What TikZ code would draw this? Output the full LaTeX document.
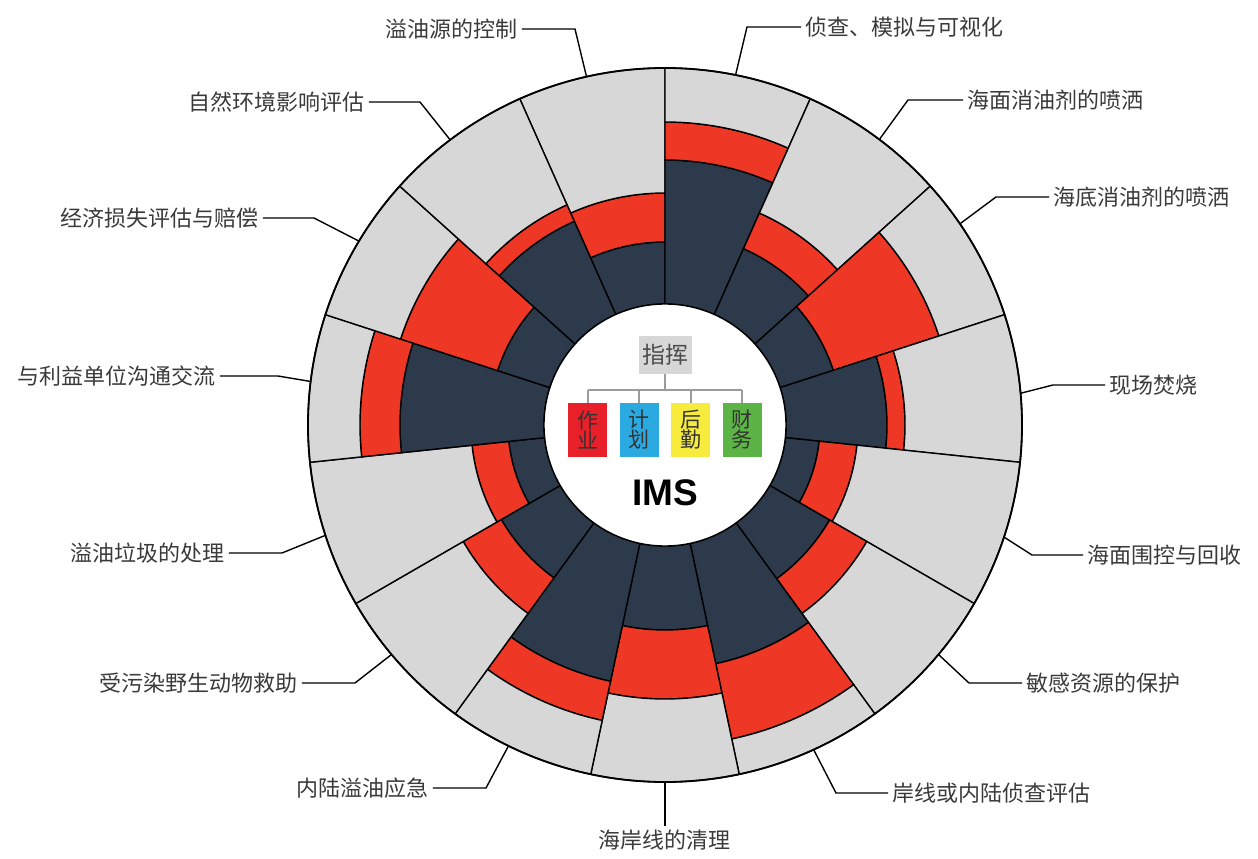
\documentclass[tikz,border=0pt]{standalone}
\usepackage{fontspec}
\setmainfont{Noto Sans CJK SC}
\newfontfamily\imsfont{Liberation Sans}
\usepackage{tikz}

\definecolor{inkdark}{HTML}{2D3A4B}
\definecolor{oilred}{HTML}{EE3724}
\definecolor{shadegray}{HTML}{D7D7D7}
\definecolor{linegray}{HTML}{9B9B9B}
\definecolor{txtgray}{HTML}{3A3A3A}
\definecolor{opsred}{HTML}{E8202A}
\definecolor{planblue}{HTML}{2BAAE1}
\definecolor{logyellow}{HTML}{F7EB3D}
\definecolor{fingreen}{HTML}{5DB446}

\begin{document}
\begin{tikzpicture}[x=1pt, y=1pt,
    ring/.style={draw=black, line width=1.4pt},
    leader/.style={draw=black, line width=1.4pt},
    task/.style={font=\fontsize{22}{24}\selectfont, text=txtgray, inner sep=4pt},
    unit/.style={minimum width=39pt, minimum height=54pt, inner sep=0pt, align=center,
                 text=black!80, font=\fontsize{21}{20}\selectfont}]

    \useasboundingbox (-665,-434) rectangle (593,425);

    % sectors: start angle / top of dark part / top of red part
    \foreach \a/\ra/\rb [evaluate=\a as \b using \a+24] in
        {90/183/232, 66/265/303, 42/193/232, 18/177/288, -6/222/240,
         -30/155/193, -54/190/233, -78/244/321, -102/205/274, -126/262/302,
         -150/189/233, -174/157/194, 162/265/305, 138/176/278, 114/223/241}{
        \filldraw[ring, fill=inkdark] (\a:121) arc[start angle=\a, end angle=\b, radius=121]
            -- (\b:\ra) arc[start angle=\b, end angle=\a, radius=\ra] -- cycle;
        \filldraw[ring, fill=oilred] (\a:\ra) arc[start angle=\a, end angle=\b, radius=\ra]
            -- (\b:\rb) arc[start angle=\b, end angle=\a, radius=\rb] -- cycle;
        \filldraw[ring, fill=shadegray] (\a:\rb) arc[start angle=\a, end angle=\b, radius=\rb]
            -- (\b:357) arc[start angle=\b, end angle=\a, radius=357] -- cycle;
    }
    \draw[line width=1.8pt] (0,0) circle[radius=357];
    \filldraw[ring, fill=white] (0,0) circle[radius=121];

    % IMS tree
    \node[fill=shadegray, minimum width=53pt, minimum height=38pt, inner sep=0pt,
          text=black!70, font=\fontsize{23}{24}\selectfont] (cmd) at (0,70) {指挥};
    \node[unit, fill=opsred] (ops) at (-77.25,-5) {作\\业};
    \node[unit, fill=planblue] (plan) at (-25.75,-5) {计\\划};
    \node[unit, fill=logyellow] (log) at (25.75,-5) {后\\勤};
    \node[unit, fill=fingreen] (fin) at (77.25,-5) {财\\务};
    \coordinate (bus) at (0,35);
    \draw[linegray, line width=2.2pt] (cmd.south) -- (bus);
    \draw[linegray, line width=2.2pt] (bus -| ops.north) -- (bus -| fin.north);
    \foreach \u in {ops, plan, log, fin}
        \draw[linegray, line width=2.2pt] (bus -| \u.north) -- (\u.north);
    \node[font=\imsfont\bfseries\fontsize{37}{40}\selectfont] (ims) at (0,-68) {IMS};

    % labels
    \coordinate (c1) at (102.7:357);
    \coordinate (k1) at (-90,396);
    \node[task, anchor=east] (t1) at (-143,396) {溢油源的控制};
    \draw[leader] (c1) -- (k1) -- (t1.east);

    \coordinate (c2) at (78.6:357);
    \coordinate (k2) at (82,398);
    \node[task, anchor=west] (t2) at (136,398) {侦查、模拟与可视化};
    \draw[leader] (c2) -- (k2) -- (t2.west);

    \coordinate (c3) at (53.1:357);
    \coordinate (k3) at (243,325);
    \node[task, anchor=west] (t3) at (298,325) {海面消油剂的喷洒};
    \draw[leader] (c3) -- (k3) -- (t3.west);

    \coordinate (c4) at (34.3:357);
    \coordinate (k4) at (331,228);
    \node[task, anchor=west] (t4) at (384,228) {海底消油剂的喷洒};
    \draw[leader] (c4) -- (k4) -- (t4.west);

    \coordinate (c5) at (5.1:357);
    \coordinate (k5) at (388,40);
    \node[task, anchor=west] (t5) at (440,40) {现场焚烧};
    \draw[leader] (c5) -- (k5) -- (t5.west);

    \coordinate (c6) at (-18.3:357);
    \coordinate (k6) at (367,-130);
    \node[task, anchor=west] (t6) at (418,-130) {海面围控与回收};
    \draw[leader] (c6) -- (k6) -- (t6.west);

    \coordinate (c7) at (-40:357);
    \coordinate (k7) at (304,-258);
    \node[task, anchor=west] (t7) at (357,-258) {敏感资源的保护};
    \draw[leader] (c7) -- (k7) -- (t7.west);

    \coordinate (c8) at (-65.4:357);
    \coordinate (k8) at (171,-368);
    \node[task, anchor=west] (t8) at (223,-368) {岸线或内陆侦查评估};
    \draw[leader] (c8) -- (k8) -- (t8.west);

    \coordinate (c9) at (-90:357);
    \node[task, anchor=north] (t9) at (0,-401) {海岸线的清理};
    \draw[leader] (c9) -- (t9.north);

    \coordinate (c10) at (-116:357);
    \coordinate (k10) at (-179,-363);
    \node[task, anchor=east] (t10) at (-232,-363) {内陆溢油应急};
    \draw[leader] (c10) -- (k10) -- (t10.east);

    \coordinate (c11) at (-140:357);
    \coordinate (k11) at (-310,-258);
    \node[task, anchor=east] (t11) at (-363,-258) {受污染野生动物救助};
    \draw[leader] (c11) -- (k11) -- (t11.east);

    \coordinate (c12) at (-162:357);
    \coordinate (k12) at (-383,-128);
    \node[task, anchor=east] (t12) at (-436,-128) {溢油垃圾的处理};
    \draw[leader] (c12) -- (k12) -- (t12.east);

    \coordinate (c13) at (173:357);
    \coordinate (k13) at (-387,49);
    \node[task, anchor=east] (t13) at (-445,49) {与利益单位沟通交流};
    \draw[leader] (c13) -- (k13) -- (t13.east);

    \coordinate (c14) at (149:357);
    \coordinate (k14) at (-351,207);
    \node[task, anchor=east] (t14) at (-402,207) {经济损失评估与赔偿};
    \draw[leader] (c14) -- (k14) -- (t14.east);

    \coordinate (c15) at (127:357);
    \coordinate (k15) at (-245,323);
    \node[task, anchor=east] (t15) at (-296,323) {自然环境影响评估};
    \draw[leader] (c15) -- (k15) -- (t15.east);

\end{tikzpicture}
\end{document}
